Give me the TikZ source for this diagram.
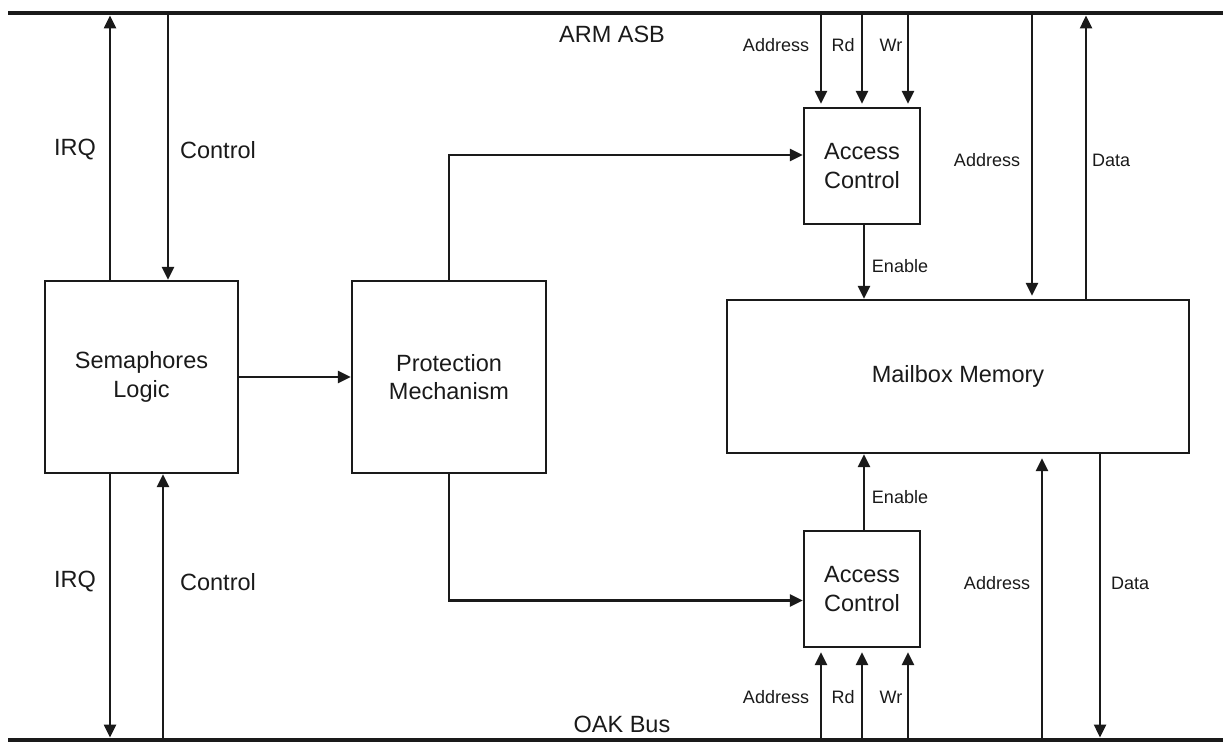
\documentclass[tikz,border=0pt]{standalone}
\usepackage{fontspec}
\setmainfont{Liberation Sans}
\usetikzlibrary{arrows.meta}
\definecolor{ink}{HTML}{1A1A1A}
\begin{document}
\begin{tikzpicture}[x=1pt,y=-1pt,
  box/.style={draw=ink,line width=2.4pt,rectangle,inner sep=0pt,align=center,font=\fontsize{23.5}{28.5}\selectfont,text=ink},
  arr/.style={draw=ink,line width=2.5pt,-{Triangle[length=13pt,width=12pt]}},
  bus/.style={draw=ink,line width=4.5pt},
  big/.style={font=\fontsize{23.5}{28.5}\selectfont,text=ink,inner sep=0pt},
  small/.style={font=\fontsize{18}{21}\selectfont,text=ink,inner sep=0pt}]
\useasboundingbox (0,0) rectangle (1223,743);
% buses
\coordinate (tbL) at (8,13); \coordinate (tbR) at (1223,13);
\coordinate (bbL) at (8,740); \coordinate (bbR) at (1223,740);
\draw[bus] (tbL) -- (tbR);
\draw[bus] (bbL) -- (bbR);
\coordinate (tb) at (0,15.5);
\coordinate (bb) at (0,737.5);
% blocks
\node[box,minimum width=193pt,minimum height=192pt] (sem) at (141.5,377) {Semaphores\\Logic};
\node[box,minimum width=194pt,minimum height=192pt] (prot) at (449,377) {Protection\\Mechanism};
\node[box,minimum width=116pt,minimum height=116pt] (act) at (862,166) {Access\\Control};
\node[box,minimum width=116pt,minimum height=116pt] (acb) at (862,589) {Access\\Control};
\node[box,minimum width=462pt,minimum height=153pt] (mb) at (958,376.5) {Mailbox Memory};
% tap positions
\coordinate (x1) at (110,0); \coordinate (x2) at (168,0); \coordinate (x2b) at (163,0);
\coordinate (a1) at (821,0); \coordinate (a2) at (862,0); \coordinate (a3) at (908,0);
\coordinate (ma) at (1032,0); \coordinate (md) at (1086,0);
\coordinate (mab) at (1042,0); \coordinate (mdb) at (1100,0);
\coordinate (yt) at (0,155); \coordinate (yb) at (0,600.5);
% semaphores <-> buses
\draw[arr] (sem.north -| x1) -- (x1 |- tb);
\draw[arr] (x2 |- tb) -- (sem.north -| x2);
\draw[arr] (sem.south -| x1) -- (x1 |- bb);
\draw[arr] (x2b |- bb) -- (sem.south -| x2b);
\draw[arr] (sem.east) -- (prot.west);
% protection -> access controls
\draw[arr] (prot.north) |- (act.west |- yt);
\draw[arr] (prot.south) |- (acb.west |- yb);
% access control inputs
\draw[arr] (a1 |- tb) -- ([yshift=3pt]act.north -| a1);
\draw[arr] (a2 |- tb) -- ([yshift=3pt]act.north -| a2);
\draw[arr] (a3 |- tb) -- ([yshift=3pt]act.north -| a3);
\draw[arr] (a1 |- bb) -- ([yshift=-4pt]acb.south -| a1);
\draw[arr] (a2 |- bb) -- ([yshift=-4pt]acb.south -| a2);
\draw[arr] (a3 |- bb) -- ([yshift=-4pt]acb.south -| a3);
% enables
\draw[arr] ([xshift=2pt]act.south) -- ([xshift=2pt]act.south |- mb.north);
\draw[arr] ([xshift=2pt]acb.north) -- ([xshift=2pt]acb.north |- mb.south);
% mailbox address/data
\draw[arr] (ma |- tb) -- ([yshift=3pt]mb.north -| ma);
\draw[arr] (mb.north -| md) -- (md |- tb);
\draw[arr] (mab |- bb) -- ([yshift=-4pt]mb.south -| mab);
\draw[arr] (mb.south -| mdb) -- (mdb |- bb);
% labels
\node[big] (lArm) at (612,34) {ARM ASB};
\node[big] (lOak) at (622,724) {OAK Bus};
\node[big] (lIrq1) at (75,150) {IRQ};
\node[big] (lCtl1) at (218,150) {Control};
\node[big] (lIrq2) at (75,582) {IRQ};
\node[big] (lCtl2) at (218,582) {Control};
\node[small] (lA1) at (776,45) {Address};
\node[small] (lR1) at (843,45) {Rd};
\node[small] (lW1) at (891,45) {Wr};
\node[small] (lA2) at (776,697) {Address};
\node[small] (lR2) at (843,697) {Rd};
\node[small] (lW2) at (891,697) {Wr};
\node[small] (lE1) at (900,266) {Enable};
\node[small] (lE2) at (900,497) {Enable};
\node[small] (lMA1) at (987,160) {Address};
\node[small] (lMD1) at (1111,160) {Data};
\node[small] (lMA2) at (997,583) {Address};
\node[small] (lMD2) at (1130,583) {Data};
\end{tikzpicture}
\end{document}
